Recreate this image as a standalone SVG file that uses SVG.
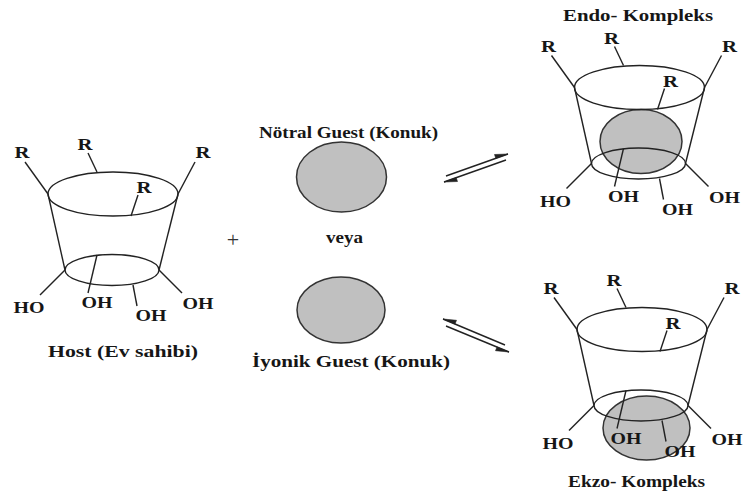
<svg xmlns="http://www.w3.org/2000/svg" xmlns:xlink="http://www.w3.org/1999/xlink" width="744" height="499" viewBox="0 0 744 499">
  <style>
    .ln { stroke: #222; stroke-width: 1.4; fill: none; }
    .guest { fill: #c0c0c0; stroke: #333; stroke-width: 1.5; }
    .lbl { font-family: "Liberation Serif", "Times New Roman", serif; font-weight: bold; font-size: 17px; fill: #161616; text-anchor: middle; }
    .title { font-family: "Liberation Serif", "Times New Roman", serif; font-weight: bold; font-size: 17px; fill: #161616; }
    .plus { font-family: "Liberation Serif", "Times New Roman", serif; font-size: 22px; fill: #333; text-anchor: middle; }
    .head { fill: #222; stroke: #222; stroke-width: 0.6; }
  </style>
  <defs>
    <!-- truncated cone with R groups on the wide rim and OH groups on the narrow rim -->
    <g id="cup">
      <ellipse class="ln" cx="113" cy="194" rx="65" ry="22"/>
      <ellipse class="ln" cx="112" cy="270" rx="47" ry="15.5"/>
      <line class="ln" x1="48" y1="194" x2="65" y2="270"/>
      <line class="ln" x1="178" y1="194" x2="159" y2="270"/>
      <line class="ln" x1="25" y1="162" x2="48" y2="194"/>
      <line class="ln" x1="88" y1="153" x2="97" y2="172"/>
      <line class="ln" x1="195" y1="162" x2="178" y2="194"/>
      <line class="ln" x1="138" y1="195" x2="131" y2="216"/>
      <line class="ln" x1="65" y1="270" x2="40" y2="295"/>
      <line class="ln" x1="97" y1="255" x2="88" y2="293"/>
      <line class="ln" x1="133" y1="285" x2="137" y2="306"/>
      <line class="ln" x1="159" y1="270" x2="182" y2="293"/>
      <text class="lbl" x="22" y="158" textLength="15" lengthAdjust="spacingAndGlyphs">R</text>
      <text class="lbl" x="85" y="150" textLength="15" lengthAdjust="spacingAndGlyphs">R</text>
      <text class="lbl" x="203" y="158" textLength="15" lengthAdjust="spacingAndGlyphs">R</text>
      <text class="lbl" x="144" y="193" textLength="15" lengthAdjust="spacingAndGlyphs">R</text>
      <text class="lbl" x="29" y="313" textLength="31" lengthAdjust="spacingAndGlyphs">HO</text>
      <text class="lbl" x="97" y="308" textLength="31" lengthAdjust="spacingAndGlyphs">OH</text>
      <text class="lbl" x="151" y="321" textLength="31" lengthAdjust="spacingAndGlyphs">OH</text>
      <text class="lbl" x="198" y="309" textLength="31" lengthAdjust="spacingAndGlyphs">OH</text>
    </g>
  </defs>

  <g id="host">
    <use xlink:href="#cup"/>
    <text class="title" x="48" y="357" textLength="150" lengthAdjust="spacingAndGlyphs">Host (Ev sahibi)</text>
  </g>

  <text class="plus" x="233" y="247">+</text>

  <g id="neutral-guest">
    <text class="title" x="259" y="138" textLength="179" lengthAdjust="spacingAndGlyphs">Nötral Guest (Konuk)</text>
    <ellipse class="guest" cx="341.5" cy="177" rx="45" ry="35"/>
  </g>

  <text class="title" x="326" y="243" textLength="37" lengthAdjust="spacingAndGlyphs">veya</text>

  <g id="ionic-guest">
    <ellipse class="guest" cx="341" cy="310" rx="44" ry="33"/>
    <text class="title" x="252" y="367" textLength="198" lengthAdjust="spacingAndGlyphs">İyonik Guest (Konuk)</text>
  </g>

  <g id="endo-complex">
    <text class="title" x="563" y="21" textLength="150" lengthAdjust="spacingAndGlyphs">Endo- Kompleks</text>
    <ellipse class="guest" cx="641" cy="141.5" rx="41" ry="32"/>
    <use xlink:href="#cup" transform="translate(526.5,-106.5)"/>
  </g>

  <g id="exo-complex">
    <ellipse class="guest" cx="646.5" cy="428" rx="43.5" ry="32"/>
    <use xlink:href="#cup" transform="translate(529,135.5)"/>
    <text class="title" x="568" y="487" textLength="137" lengthAdjust="spacingAndGlyphs">Ekzo- Kompleks</text>
  </g>

  <g id="connectors">
    <!-- equilibrium to the endo complex -->
    <line class="ln" x1="446" y1="176" x2="508" y2="154"/>
    <line class="ln" x1="444" y1="182" x2="506" y2="160"/>
    <polygon class="head" points="508,154 495.8,158.3 494.5,154.5"/>
    <polygon class="head" points="444,182 456.2,177.7 457.5,181.5"/>
    <!-- equilibrium to the exo complex -->
    <line class="ln" x1="443" y1="319" x2="505" y2="345"/>
    <line class="ln" x1="446" y1="326" x2="509" y2="352"/>
    <polygon class="head" points="443,319 455,324 456.5,320.3"/>
    <polygon class="head" points="509,352 497,347 495.5,350.7"/>
  </g>
</svg>
